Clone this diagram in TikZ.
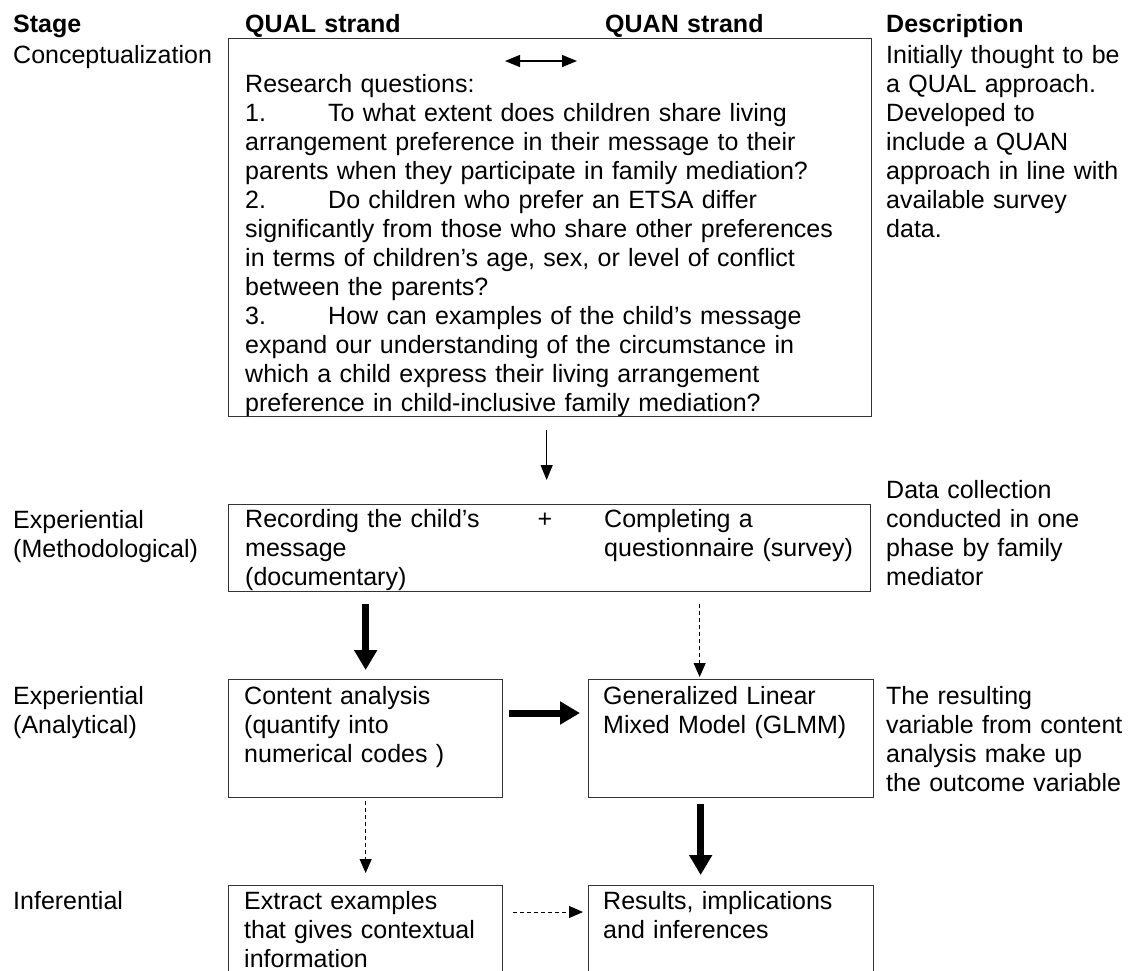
\documentclass[tikz,border=0pt]{standalone}
\usepackage{fontspec}
\setmainfont{Liberation Sans}
\usetikzlibrary{arrows.meta,calc}
\begin{document}
\begin{tikzpicture}[x=1pt,y=-1pt,
  txt/.style={anchor=base west, inner sep=0pt, text width=700pt, align=left, font=\fontsize{25}{29}\selectfont},
  hdr/.style={txt, font=\fontsize{25}{29}\selectfont\bfseries},
  box/.style={draw=black!80, line width=1.3pt, anchor=north west, inner sep=0pt},
  thinarrow/.style={draw=black, line width=1.2pt, -{Triangle[length=15pt,width=12pt]}},
  thickarrow/.style={draw=black, line width=7pt, -{Triangle[length=20pt,width=22pt]}},
  dasharrow/.style={draw=black, line width=1pt, dash pattern=on 4pt off 3pt, -{Triangle[length=14pt,width=12pt]}}
]
\useasboundingbox (0,0) rectangle (1130,970);
\clip (0,0) rectangle (1130,970);
\fill[white] (0,0) rectangle (1130,970);

% boxes
\node[box, minimum width=643pt, minimum height=378pt] (rq) at (228,38) {};
\node[box, minimum width=642pt, minimum height=87pt] (exp) at (228,504) {};
\node[box, minimum width=274pt, minimum height=118pt] (ca) at (228,679) {};
\node[box, minimum width=285pt, minimum height=118pt] (glmm) at (588,679) {};
\node[box, minimum width=274pt, minimum height=130pt] (ex) at (228,885) {};
\node[box, minimum width=285pt, minimum height=130pt] (res) at (588,885) {};

% headers
\node[hdr] (hstage) at (13,32) {Stage};
\node[hdr] (hqual) at (245,32) {QUAL strand};
\node[hdr] (hquan) at (605,32) {QUAN strand};
\node[hdr] (hdesc) at (886,32) {Description};

% stage column
\node[txt] (s1) at (13,63) {Conceptualization};
\node[txt] (s2) at (13,528) {Experiential\\(Methodological)};
\node[txt] (s3) at (13,704) {Experiential\\(Analytical)};
\node[txt] (s4) at (13,909) {Inferential};

% description column
\node[txt] (d1) at (886,63) {Initially thought to be\\a QUAL approach.\\Developed to\\include a QUAN\\approach in line with\\available survey\\data.};
\node[txt] (d2) at (886,498) {Data collection\\conducted in one\\phase by family\\mediator};
\node[txt] (d3) at (886,704) {The resulting\\variable from content\\analysis make up\\the outcome variable};

% box texts
\node[txt] (rqt) at (245,92) {Research questions:\\
\makebox[83pt][l]{1.}To what extent does children share living\\
arrangement preference in their message to their\\
parents when they participate in family mediation?\\
\makebox[83pt][l]{2.}Do children who prefer an ETSA differ\\
significantly from those who share other preferences\\
in terms of children’s age, sex, or level of conflict\\
between the parents?\\
\makebox[83pt][l]{3.}How can examples of the child’s message\\
expand our understanding of the circumstance in\\
which a child express their living arrangement\\
preference in child-inclusive family mediation?};
\node[txt] (rec) at (245,527) {Recording the child’s\\message\\(documentary)};
\node[anchor=base, inner sep=0pt, font=\fontsize{25}{29}\selectfont] (plus) at (545,527) {+};
\node[txt] (comp) at (604,527) {Completing a\\questionnaire (survey)};
\node[txt] (cat) at (244,704) {Content analysis\\(quantify into\\numerical codes )};
\node[txt] (glt) at (603,704) {Generalized Linear\\Mixed Model (GLMM)};
\node[txt] (ext) at (244,909) {Extract examples\\that gives contextual\\information};
\node[txt] (rest) at (603,909) {Results, implications\\and inferences};

% double arrow in the top box
\coordinate (da1) at (505,61);
\coordinate (da2) at (577,61);
\draw[line width=1.2pt, {Triangle[length=15pt,width=12pt]}-{Triangle[length=15pt,width=12pt]}] (da1) -- (da2);

% connectors
\draw[thinarrow] ([xshift=-3.5pt,yshift=-13pt]rq.south) -- ([xshift=-3pt,yshift=24pt]exp.north);
\draw[thickarrow] ([yshift=-12pt]ca.north |- exp.south) -- ([yshift=9pt]ca.north);
\draw[dasharrow] ([xshift=-31.5pt,yshift=-12pt]glmm.north |- exp.south) -- ([xshift=-31.5pt,yshift=2pt]glmm.north);
\draw[thickarrow] ([xshift=6pt,yshift=-34pt]ca.north east) -- ([xshift=-8pt,yshift=-34pt]glmm.north west);
\draw[dasharrow] ([yshift=-3pt]ca.south) -- ([yshift=12pt]ex.north);
\draw[thickarrow] ([xshift=-30.5pt,yshift=-6pt]glmm.south) -- ([xshift=-30.5pt,yshift=10pt]res.north);
\draw[dasharrow] ([xshift=10pt,yshift=-27pt]ex.north east) -- ([xshift=-5pt,yshift=-27pt]res.north west);
\end{tikzpicture}
\end{document}
